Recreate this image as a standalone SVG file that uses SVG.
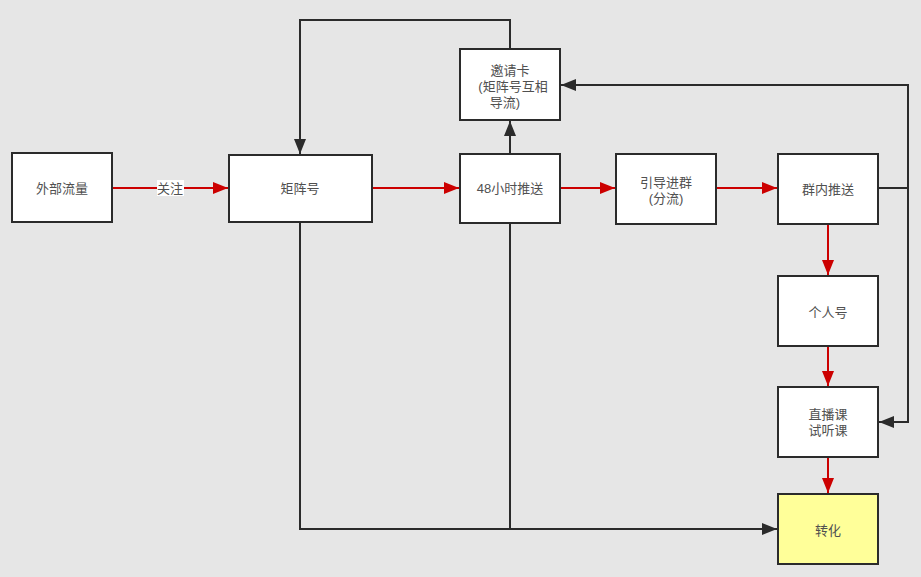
<svg xmlns="http://www.w3.org/2000/svg" width="921" height="577" viewBox="0 0 921 577">
<style>
.box{fill:#ffffff;stroke:#2b2b2b;stroke-width:2}
.t{font-family:"Liberation Sans","Noto Sans CJK SC",sans-serif;font-size:13px;fill:#505050;text-anchor:middle}
.r{fill:none;stroke:#cc0000;stroke-width:2}
.k{fill:none;stroke:#2b2b2b;stroke-width:2}
</style>
<defs>
<marker id="ar" markerWidth="15" markerHeight="12" refX="15" refY="6" orient="auto" markerUnits="userSpaceOnUse" viewBox="0 0 15 12"><path d="M0,0 L15,6 L0,12 Z" fill="#cc0000"/></marker>
<marker id="ak" markerWidth="15" markerHeight="12" refX="15" refY="6" orient="auto" markerUnits="userSpaceOnUse" viewBox="0 0 15 12"><path d="M0,0 L15,6 L0,12 Z" fill="#2b2b2b"/></marker>
</defs>
<rect width="921" height="577" fill="#e6e6e6"/>
<g id="connectors">
<line class="r" x1="112" y1="188" x2="228" y2="188" marker-end="url(#ar)"/>
<rect x="157" y="180" width="27" height="16" fill="#ffffff"/>
<text class="t" x="170" y="193">关注</text>
<line class="r" x1="372" y1="188" x2="459" y2="188" marker-end="url(#ar)"/>
<line class="r" x1="560" y1="188" x2="615" y2="188" marker-end="url(#ar)"/>
<line class="r" x1="716" y1="188" x2="777" y2="188" marker-end="url(#ar)"/>
<line class="r" x1="828" y1="224" x2="828" y2="275" marker-end="url(#ar)"/>
<line class="r" x1="828" y1="346" x2="828" y2="386" marker-end="url(#ar)"/>
<line class="r" x1="828" y1="457" x2="828" y2="493" marker-end="url(#ar)"/>
<line class="k" x1="510" y1="154" x2="510" y2="121" marker-end="url(#ak)"/>
<polyline class="k" points="510,49 510,20 300,20 300,154" marker-end="url(#ak)"/>
<polyline class="k" points="878,188 908,188 908,85 561,85" marker-end="url(#ak)"/>
<polyline class="k" points="878,188 908,188 908,422 879,422" marker-end="url(#ak)"/>
<polyline class="k" points="300,222 300,529 777,529" marker-end="url(#ak)"/>
<line class="k" x1="510" y1="223" x2="510" y2="529"/>
</g>
<g id="n1"><rect class="box" x="12" y="153" width="100" height="69"/><text class="t" x="62" y="193">外部流量</text></g>
<g id="n2"><rect class="box" x="229" y="155" width="143" height="67"/><text class="t" x="300" y="193">矩阵号</text></g>
<g id="n3"><rect class="box" x="460" y="49" width="100" height="71"/><text class="t" x="510" y="75">邀请卡</text><text class="t" x="513" y="91">(矩阵号互相</text><text class="t" x="505" y="107">导流)</text></g>
<g id="n4"><rect class="box" x="460" y="154" width="100" height="69"/><text class="t" x="510" y="193">48小时推送</text></g>
<g id="n5"><rect class="box" x="616" y="154" width="100" height="70"/><text class="t" x="666" y="187">引导进群</text><text class="t" x="666" y="203">(分流)</text></g>
<g id="n6"><rect class="box" x="778" y="154" width="100" height="70"/><text class="t" x="828" y="194">群内推送</text></g>
<g id="n7"><rect class="box" x="778" y="276" width="100" height="70"/><text class="t" x="828" y="317">个人号</text></g>
<g id="n8"><rect class="box" x="778" y="387" width="100" height="70"/><text class="t" x="828" y="419">直播课</text><text class="t" x="828" y="435">试听课</text></g>
<g id="n9"><rect class="box" x="778" y="494" width="100" height="70" style="fill:#ffff99"/><text class="t" x="828" y="535">转化</text></g>
</svg>
